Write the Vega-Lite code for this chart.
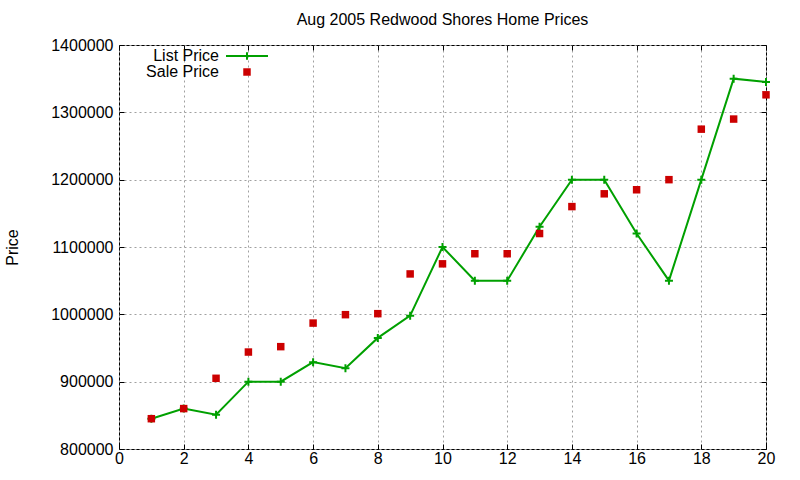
{
  "$schema": "https://vega.github.io/schema/vega-lite/v6.json",
  "width": 647,
  "height": 404,
  "autosize": {"type": "none"},
  "padding": {"left": 119, "top": 45, "right": 34, "bottom": 31},
  "background": "white",
  "title": {
    "text": "Aug 2005 Redwood Shores Home Prices",
    "font": "Liberation Sans",
    "fontSize": 16,
    "fontWeight": "normal",
    "color": "black",
    "offset": 9
  },
  "config": {
    "view": {"stroke": "black", "strokeWidth": 1},
    "axis": {
      "labelFont": "Liberation Sans",
      "labelFontSize": 16,
      "labelColor": "black",
      "labelFlush": false,
      "titleFont": "Liberation Sans",
      "titleFontSize": 16,
      "titleFontWeight": "normal",
      "titleColor": "black",
      "domain": false,
      "tickColor": "black",
      "tickSize": -5,
      "gridColor": "#a0a0a0",
      "gridDash": [2, 3],
      "gridWidth": 1,
      "gridOpacity": 1
    }
  },
  "resolve": {"axis": {"x": "independent", "y": "independent"}},
  "data": {
    "values": [
      {"x": 1, "price": 845000, "series": "List Price"},
      {"x": 2, "price": 860000, "series": "List Price"},
      {"x": 3, "price": 851000, "series": "List Price"},
      {"x": 4, "price": 900000, "series": "List Price"},
      {"x": 5, "price": 900000, "series": "List Price"},
      {"x": 6, "price": 929000, "series": "List Price"},
      {"x": 7, "price": 920000, "series": "List Price"},
      {"x": 8, "price": 965000, "series": "List Price"},
      {"x": 9, "price": 998000, "series": "List Price"},
      {"x": 10, "price": 1100000, "series": "List Price"},
      {"x": 11, "price": 1050000, "series": "List Price"},
      {"x": 12, "price": 1050000, "series": "List Price"},
      {"x": 13, "price": 1130000, "series": "List Price"},
      {"x": 14, "price": 1200000, "series": "List Price"},
      {"x": 15, "price": 1200000, "series": "List Price"},
      {"x": 16, "price": 1120000, "series": "List Price"},
      {"x": 17, "price": 1050000, "series": "List Price"},
      {"x": 18, "price": 1200000, "series": "List Price"},
      {"x": 19, "price": 1350000, "series": "List Price"},
      {"x": 20, "price": 1345000, "series": "List Price"},
      {"x": 1, "price": 845000, "series": "Sale Price"},
      {"x": 2, "price": 860000, "series": "Sale Price"},
      {"x": 3, "price": 905000, "series": "Sale Price"},
      {"x": 4, "price": 944000, "series": "Sale Price"},
      {"x": 5, "price": 952000, "series": "Sale Price"},
      {"x": 6, "price": 987000, "series": "Sale Price"},
      {"x": 7, "price": 999500, "series": "Sale Price"},
      {"x": 8, "price": 1001000, "series": "Sale Price"},
      {"x": 9, "price": 1060000, "series": "Sale Price"},
      {"x": 10, "price": 1075000, "series": "Sale Price"},
      {"x": 11, "price": 1090000, "series": "Sale Price"},
      {"x": 12, "price": 1090000, "series": "Sale Price"},
      {"x": 13, "price": 1120000, "series": "Sale Price"},
      {"x": 14, "price": 1160000, "series": "Sale Price"},
      {"x": 15, "price": 1179000, "series": "Sale Price"},
      {"x": 16, "price": 1185000, "series": "Sale Price"},
      {"x": 17, "price": 1200000, "series": "Sale Price"},
      {"x": 18, "price": 1275000, "series": "Sale Price"},
      {"x": 19, "price": 1290000, "series": "Sale Price"},
      {"x": 20, "price": 1326000, "series": "Sale Price"}
    ]
  },
  "encoding": {
    "color": {
      "field": "series",
      "type": "nominal",
      "scale": {"domain": ["List Price", "Sale Price"], "range": ["#00a000", "#cc0000"]},
      "legend": {
        "title": null,
        "orient": "none",
        "legendX": 120,
        "legendY": 3,
        "padding": 0,
        "rowPadding": 0,
        "labelFont": "Liberation Sans",
        "labelFontSize": 16,
        "labelColor": "black",
        "labelAlign": "right",
        "labelOffset": -36,
        "symbolSize": 1764,
        "symbolStrokeWidth": 2,
        "symbolType": "M-1,0H1M0,-0.18V0.18",
        "encode": {
          "symbols": {
            "update": {
              "shape": {"signal": "datum.value === 'List Price' ? 'M-1,0H1M0,-0.18V0.18' : 'square'"},
              "size": {"signal": "datum.value === 'List Price' ? 1764 : 56"},
              "fill": {"signal": "datum.value === 'List Price' ? 'transparent' : '#cc0000'"},
              "stroke": {"signal": "datum.value === 'List Price' ? '#00a000' : '#cc0000'"},
              "strokeWidth": {"signal": "datum.value === 'List Price' ? 2 : 0"},
              "opacity": {"value": 1}
            }
          }
        }
      }
    }
  },
  "layer": [
    {
      "transform": [{"filter": "datum.series === 'List Price'"}],
      "mark": {"type": "line", "strokeWidth": 2},
      "encoding": {
        "x": {
          "field": "x",
          "type": "quantitative",
          "scale": {"domain": [0, 20], "nice": false},
          "axis": {
            "title": null,
            "values": [0, 2, 4, 6, 8, 10, 12, 14, 16, 18, 20],
            "grid": true,
            "labelPadding": 6
          }
        },
        "y": {
          "field": "price",
          "type": "quantitative",
          "scale": {"domain": [800000, 1400000], "nice": false, "zero": false},
          "axis": {
            "title": "Price",
            "values": [800000, 900000, 1000000, 1100000, 1200000, 1300000, 1400000],
            "format": "d",
            "grid": true,
            "labelPadding": 11,
            "titlePadding": 30
          }
        }
      }
    },
    {
      "transform": [{"filter": "datum.series === 'List Price'"}],
      "mark": {
        "type": "point",
        "shape": "M-1,0H1M0,-1V1",
        "size": 64,
        "filled": false,
        "strokeWidth": 2,
        "opacity": 1
      },
      "encoding": {
        "x": {"field": "x", "type": "quantitative", "axis": null},
        "y": {"field": "price", "type": "quantitative", "axis": null}
      }
    },
    {
      "transform": [{"filter": "datum.series === 'Sale Price'"}],
      "mark": {"type": "square", "size": 56, "opacity": 1},
      "encoding": {
        "x": {"field": "x", "type": "quantitative", "axis": null},
        "y": {"field": "price", "type": "quantitative", "axis": null}
      }
    },
    {
      "transform": [{"filter": "datum.series === 'Sale Price'"}],
      "mark": {"type": "rule", "opacity": 0},
      "encoding": {
        "x": {
          "field": "x",
          "type": "quantitative",
          "axis": {
            "orient": "top",
            "title": null,
            "values": [0, 2, 4, 6, 8, 10, 12, 14, 16, 18, 20],
            "labels": false,
            "grid": false
          }
        },
        "y": {
          "field": "price",
          "type": "quantitative",
          "axis": {
            "orient": "right",
            "title": null,
            "values": [800000, 900000, 1000000, 1100000, 1200000, 1300000, 1400000],
            "labels": false,
            "grid": false
          }
        },
        "color": {"value": "black"}
      }
    }
  ]
}
